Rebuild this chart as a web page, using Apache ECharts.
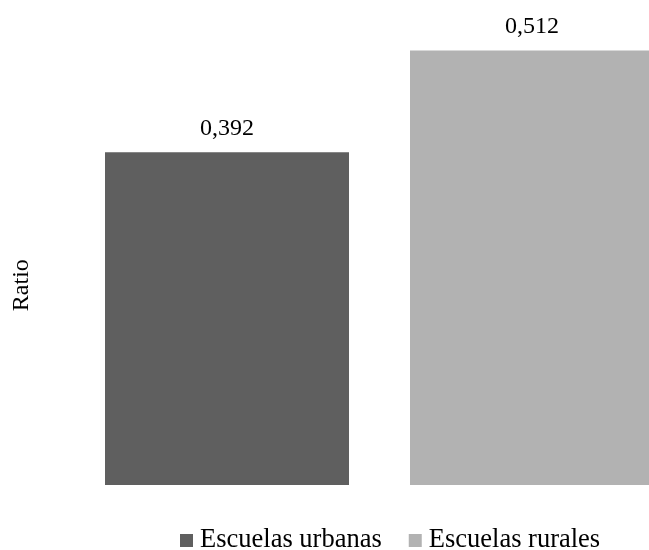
<!DOCTYPE html>
<html>
<head>
<meta charset="utf-8">
<script src="https://cdn.jsdelivr.net/npm/echarts@6/dist/echarts.min.js"></script>
<style>
  html, body { margin: 0; padding: 0; background: #ffffff; }
  #chart { width: 649px; height: 550px; }
</style>
</head>
<body>
<div id="chart"></div>
<script>
// Ratio by school type
var categories = [''];
var seriesNames = ['Escuelas urbanas', 'Escuelas rurales'];
var urbanValues = [0.392];
var ruralValues = [0.512];
var axisName = 'Ratio';

var FONT = '"Liberation Serif", "Times New Roman", serif';
var colors = ['#5f5f5f', '#b2b2b2'];

function fmt(v) {
  return v.toFixed(3).replace('.', ',');
}

var chart = echarts.init(document.getElementById('chart'), null, { renderer: 'canvas' });

function barSeries(name, data, color) {
  return {
    name: name,
    type: 'bar',
    data: data,
    barWidth: 244,
    barGap: '25%',
    clip: false,
    itemStyle: { color: color },
    label: {
      show: true,
      position: 'top',
      distance: 12,
      formatter: function (p) { return fmt(p.value); },
      color: '#000000',
      fontFamily: FONT,
      fontSize: 24
    },
    emphasis: { disabled: true }
  };
}

chart.setOption({
  animation: false,
  backgroundColor: '#ffffff',
  grid: { left: 110, right: 0, top: 18.3, bottom: 65, containLabel: false },
  legend: {
    data: seriesNames,
    left: 180,
    top: 527,
    padding: 0,
    icon: 'rect',
    itemWidth: 13,
    itemHeight: 13,
    itemGap: 27,
    textStyle: { fontFamily: FONT, fontSize: 26.5, color: '#000000', padding: [0, 0, 0, 2] }
  },
  xAxis: {
    type: 'category',
    data: categories,
    axisLine: { show: false },
    axisTick: { show: false },
    axisLabel: { show: false },
    splitLine: { show: false }
  },
  yAxis: {
    type: 'value',
    min: 0,
    max: 0.55,
    name: axisName,
    nameLocation: 'middle',
    nameRotate: 90,
    nameGap: 76,
    nameTextStyle: { fontFamily: FONT, fontSize: 24, color: '#000000', padding: [0, 67, 0, 0] },
    axisLine: { show: false },
    axisTick: { show: false },
    axisLabel: { show: false },
    splitLine: { show: false }
  },
  series: [
    barSeries(seriesNames[0], urbanValues, colors[0]),
    barSeries(seriesNames[1], ruralValues, colors[1])
  ]
});
</script>
</body>
</html>
